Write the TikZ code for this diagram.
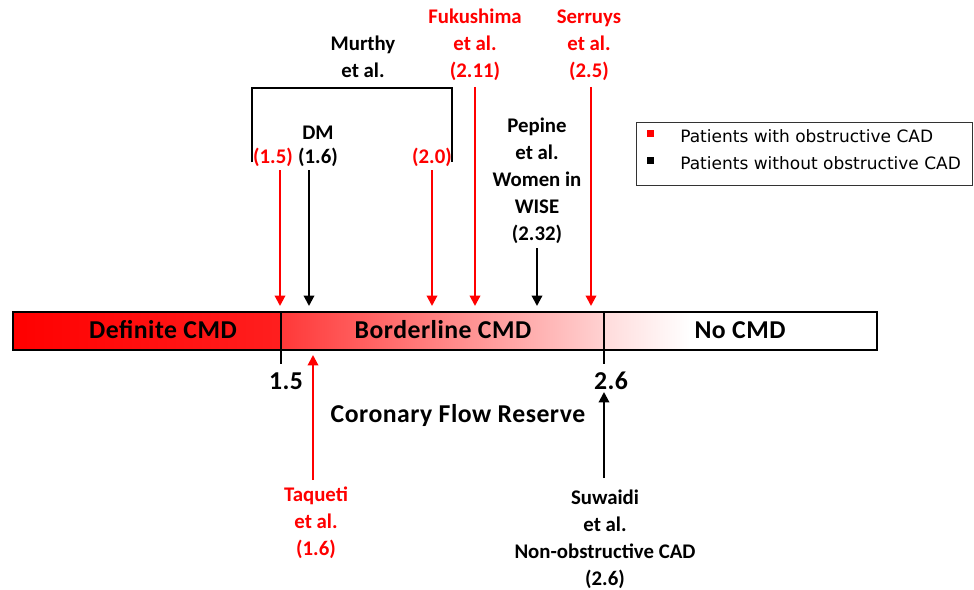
\documentclass[tikz,border=0pt]{standalone}
\usepackage{fontspec}
\setmainfont{Carlito}
\newfontfamily\legfont{DejaVu Sans}
\usetikzlibrary{arrows.meta}

\begin{document}
\begin{tikzpicture}[
  x=0.25mm,y=-0.25mm,
  lab/.style={font=\fontsize{14.8}{19.2}\selectfont\bfseries, align=center, inner sep=0pt},
  redlab/.style={lab, text=red},
  big/.style={font=\fontsize{18.3}{21}\selectfont\bfseries\addfontfeature{LetterSpace=2}, inner sep=0pt},
  legtxt/.style={font=\legfont\fontsize{12.1}{14}\selectfont, anchor=west, inner sep=0pt},
  arr/.style={line width=1.5pt, -{Triangle[length=2.6mm,width=2.6mm]}},
  redarr/.style={arr, draw=red},
  blkarr/.style={arr, draw=black}]
\useasboundingbox (0,0) rectangle (974,590);
% CFR bar
\shade[left color=red, right color=red!88!white] (13,312) rectangle (281,350);
\shade[left color=red!78!white, right color=red!18!white] (281,312) rectangle (604,350);
\shade[left color=red!14!white, right color=white] (604,312) rectangle (690,350);
\draw[line width=0.8pt] (13,312) rectangle (877,350);
\draw[line width=1.2pt] (281,312) -- (281,364);
\draw[line width=1.2pt] (604,312) -- (604,364);
\node[big] (def) at (163,330) {Definite CMD};
\node[big] (bord) at (443,330) {Borderline CMD};
\node[big] (nocmd) at (740,330) {No CMD};
\node[big] (v15) at (286,381) {1.5};
\node[big] (v26) at (611,381) {2.6};
\node[big] (cfr) at (458,415) {Coronary Flow Reserve};
% Murthy bracket
\node[lab] (murthy) at (363,57) {Murthy\\et al.};
\draw[line width=1.4pt] (252,162) |- (452,88) -- (452,162);
\node[lab] (dm) at (318,133) {DM};
\node[redlab] (m15) at (273,157) {(1.5)};
\node[lab] (m16) at (318,157) {(1.6)};
\node[redlab] (m20) at (432,157) {(2.0)};
\node[redlab] (fuku) at (475,45) {Fukushima\\et al.\\(2.11)};
\node[redlab] (serr) at (589,45) {Serruys\\et al.\\(2.5)};
\node[lab] (pep) at (537,181) {Pepine\\et al.\\Women in\\WISE\\(2.32)};
\node[redlab] (taq) at (316,523) {Taqueti\\et al.\\(1.6)};
\node[lab] (suw) at (605,539) {Suwaidi\\et al.\\Non-obstructive CAD\\(2.6)};
% arrow ends
\coordinate (t15) at (280,170); \coordinate (h15) at (280,306);
\coordinate (t16) at (309,170); \coordinate (h16) at (309,306);
\coordinate (t20) at (432,170); \coordinate (h20) at (432,306);
\coordinate (tfu) at (475,87);  \coordinate (hfu) at (475,306);
\coordinate (tse) at (591,87);  \coordinate (hse) at (591,306);
\coordinate (tpe) at (537,248); \coordinate (hpe) at (537,306);
\coordinate (tta) at (313,480); \coordinate (hta) at (313,355);
\coordinate (tsu) at (604,478); \coordinate (hsu) at (604,392);
\draw[redarr] (t15) -- (h15);
\draw[blkarr] (t16) -- (h16);
\draw[redarr] (t20) -- (h20);
\draw[redarr] (tfu) -- (hfu);
\draw[redarr] (tse) -- (hse);
\draw[blkarr] (tpe) -- (hpe);
\draw[redarr] (tta) -- (hta);
\draw[blkarr] (tsu) -- (hsu);
% legend
\draw[line width=0.6pt, draw=black!80] (636,122) rectangle (972,185);
\fill[red] (647,130) rectangle (654,137);
\fill[black] (647,157) rectangle (654,164);
\node[legtxt] (leg1) at (680,136) {Patients with obstructive CAD};
\node[legtxt] (leg2) at (680,163) {Patients without obstructive CAD};
\end{tikzpicture}
\end{document}
